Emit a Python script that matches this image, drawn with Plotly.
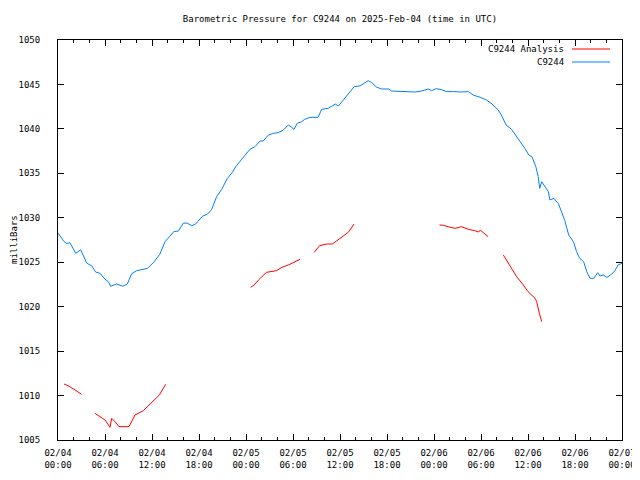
import plotly.graph_objects as go

# hours since 2025-02-04 00:00 UTC
station_hours = [0.0, 0.7, 1.1, 1.5, 1.9, 2.25, 2.9, 3.66, 4.3, 4.8, 5.36, 6.0, 6.43, 6.72, 7.49, 8.26, 8.85,
                 9.4, 10.04, 10.7, 11.4, 12.17, 13.0, 13.66, 14.3, 14.8, 15.36, 16.0, 16.5, 17.07, 17.57, 18.47,
                 19.07, 19.6, 20.26, 20.9, 21.6, 22.25, 22.68, 23.2, 23.87, 24.5, 25.15, 25.8, 26.2, 26.85, 27.5,
                 28.1, 28.76, 29.4, 29.83, 30.13, 30.55, 31.1, 31.5, 32.17, 33.2, 33.66, 34.5, 35.4, 35.8, 36.6,
                 37.36, 37.8, 38.55, 39.6, 40.0, 40.7, 41.3, 42.2, 42.6, 43.66, 44.1, 45.6, 46.4, 47.3, 47.7,
                 48.3, 49.0, 49.6, 50.5, 51.3, 52.4, 53.0, 53.9, 54.7, 55.4, 56.2, 56.6, 57.2, 57.9, 58.6, 59.0,
                 59.6, 60.1, 60.5, 61.0, 61.3, 61.5, 61.75, 62.2, 62.6, 62.8, 63.3, 63.9, 64.3, 64.7, 65.2, 65.8,
                 66.2, 66.6, 67.1, 67.5, 67.9, 68.4, 68.9, 69.2, 69.6, 70.1, 70.7, 71.1, 71.5, 72.0]
station_mb = [1028.3, 1027.4, 1027.1, 1027.2, 1026.6, 1026.0, 1026.4, 1024.9, 1024.6, 1023.9, 1023.75, 1023.1,
              1022.8, 1022.3, 1022.55, 1022.3, 1022.55, 1023.7, 1024.05, 1024.2, 1024.3, 1024.95, 1025.9, 1027.3,
              1027.9, 1028.45, 1028.5, 1029.4, 1029.4, 1029.1, 1029.3, 1030.2, 1030.4, 1030.9, 1032.4, 1033.2,
              1034.4, 1035.1, 1035.75, 1036.3, 1037.06, 1037.7, 1038.0, 1038.64, 1038.64, 1039.3, 1039.5, 1039.57,
              1039.87, 1040.44, 1040.18, 1039.95, 1040.63, 1040.81, 1041.08, 1041.3, 1041.3, 1042.2, 1042.32,
              1042.8, 1042.57, 1043.44, 1044.38, 1044.75, 1044.83, 1045.42, 1045.24, 1044.68, 1044.49, 1044.49,
              1044.26, 1044.23, 1044.15, 1044.15, 1044.26, 1044.49, 1044.3, 1044.53, 1044.4, 1044.19, 1044.2,
              1044.15, 1044.19, 1043.81, 1043.55, 1043.25, 1042.8, 1042.13, 1041.56, 1040.44, 1039.95, 1039.13,
              1038.56, 1037.81, 1037.06, 1036.88, 1035.75, 1034.63, 1033.31, 1034.06, 1033.5, 1032.94, 1032.0,
              1032.19, 1031.55, 1030.69, 1029.67, 1028.06, 1027.31, 1026.19, 1025.44, 1025.06, 1023.94, 1023.19,
              1023.19, 1023.82, 1023.45, 1023.56, 1023.3, 1023.67, 1024.05, 1024.69, 1024.88]

# analysis segments (None = gap)
analysis_hours = [0.77, 1.3, 2.17, 3.0, None,
                  4.72, 5.36, 6.0, 6.64, 6.85, 7.28, 7.79, 9.06, 9.83, 10.9, 11.96, 12.94, 13.74, None,
                  24.6, 25.0, 25.6, 26.6, 27.9, 28.6, 29.4, 30.9, None,
                  32.7, 33.4, 34.3, 35.0, 35.6, 36.4, 37.06, 37.8, None,
                  48.7, 49.2, 49.8, 50.7, 51.5, 52.4, 53.2, 53.7, 53.9, 54.4, 54.9, None,
                  56.85, 57.5, 58.0, 58.55, 59.4, 60.0, 60.9, 61.1, 61.45, 61.75]
analysis_mb = [1011.3, 1011.1, 1010.63, 1010.14, None,
               1008.0, 1007.63, 1007.25, 1006.43, 1007.44, 1007.06, 1006.5, 1006.5, 1007.81, 1008.3, 1009.2,
               1010.06, 1011.26, None,
               1022.18, 1022.4, 1023.0, 1023.86, 1024.05, 1024.43, 1024.69, 1025.33, None,
               1026.11, 1026.86, 1027.05, 1027.05, 1027.42, 1027.95, 1028.36, 1029.3, None,
               1029.19, 1029.15, 1029.0, 1028.81, 1029.0, 1028.7, 1028.55, 1028.4, 1028.62, 1028.3, 1027.88, None,
               1025.81, 1024.88, 1024.3, 1023.38, 1022.44, 1021.69, 1020.94, 1020.6, 1019.25, 1018.31]

tick_hours = [0, 6, 12, 18, 24, 30, 36, 42, 48, 54, 60, 66, 72]
tick_labels = ["02/04<br>00:00", "02/04<br>06:00", "02/04<br>12:00", "02/04<br>18:00",
               "02/05<br>00:00", "02/05<br>06:00", "02/05<br>12:00", "02/05<br>18:00",
               "02/06<br>00:00", "02/06<br>06:00", "02/06<br>12:00", "02/06<br>18:00",
               "02/07<br>00:00"]

RED = "#ff0000"
BLUE = "#0080ff"
FONT = "DejaVu Sans Mono"

fig = go.Figure()
fig.add_trace(go.Scatter(x=analysis_hours, y=analysis_mb, mode="lines", name="C9244 Analysis",
                         line=dict(color=RED, width=1), connectgaps=False))
fig.add_trace(go.Scatter(x=station_hours, y=station_mb, mode="lines", name="C9244",
                         line=dict(color=BLUE, width=1)))

axis_common = dict(showline=True, linecolor="black", linewidth=1, mirror="ticks", ticks="inside",
                   tickcolor="black", showgrid=False, zeroline=False, automargin=False,
                   tickfont=dict(family=FONT, size=9, color="black"))

fig.update_xaxes(range=[0, 72], tickvals=tick_hours, ticktext=tick_labels, ticklen=6,
                 ticklabelstandoff=4,
                 minor=dict(dtick=2, ticks="inside", ticklen=3, tickcolor="black"),
                 **axis_common)
fig.update_yaxes(range=[1005, 1050], dtick=5, ticklen=6, ticklabelstandoff=15, **axis_common)

# y-axis label
fig.add_annotation(xref="paper", yref="paper", x=(14 - 58) / 564, y=0.5, text="milliBars", textangle=-90,
                   showarrow=False, xanchor="center", yanchor="middle",
                   font=dict(family=FONT, size=9, color="black"))

# gnuplot-style key: text then line sample
fig.add_annotation(xref="paper", yref="paper", x=(566 - 58) / 564, y=(440 - 49) / 400, text="C9244 Analysis",
                   showarrow=False, xanchor="right", yanchor="middle",
                   font=dict(family=FONT, size=9, color="black"))
fig.add_annotation(xref="paper", yref="paper", x=(566 - 58) / 564, y=(440 - 62) / 400, text="C9244",
                   showarrow=False, xanchor="right", yanchor="middle",
                   font=dict(family=FONT, size=9, color="black"))
fig.add_shape(type="line", xref="paper", yref="paper", x0=(572 - 58) / 564, x1=(610 - 58) / 564,
              y0=(440 - 49) / 400, y1=(440 - 49) / 400, line=dict(color=RED, width=1))
fig.add_shape(type="line", xref="paper", yref="paper", x0=(572 - 58) / 564, x1=(610 - 58) / 564,
              y0=(440 - 62) / 400, y1=(440 - 62) / 400, line=dict(color=BLUE, width=1))

# the page body adds an 8px offset; size the figure so the plot lands where the reference has it
W, H = 632, 472
fig.update_layout(
    width=W, height=H,
    margin=dict(l=50, r=18, t=32, b=40),
    paper_bgcolor="white", plot_bgcolor="white",
    showlegend=False,
    title=dict(text="Barometric Pressure for C9244 on 2025-Feb-04 (time in UTC)",
               x=(340 - 8) / W, xanchor="center", y=1 - (19 - 8) / H, yanchor="middle",
               font=dict(family=FONT, size=9, color="black")),
)

fig.write_html("out.html")
